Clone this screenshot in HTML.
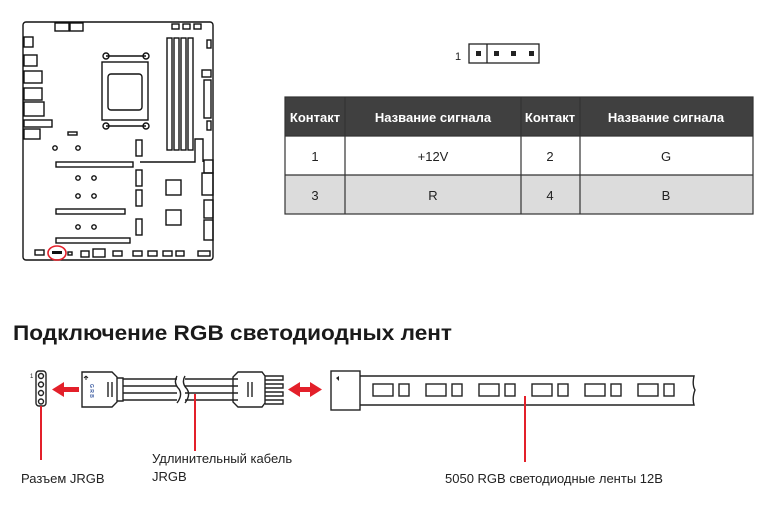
<!DOCTYPE html>
<html><head><meta charset="utf-8"><style>
html,body{margin:0;padding:0;background:#fff;width:772px;height:508px;overflow:hidden}
svg{display:block}
text{font-family:"Liberation Sans","Noto Sans CJK SC",sans-serif}
</style></head><body>
<svg width="772" height="508" viewBox="0 0 772 508" xmlns="http://www.w3.org/2000/svg">
<!-- Motherboard -->
<g fill="none" stroke="#111" stroke-width="1.4">
<rect x="23" y="22" width="190" height="238" rx="3"/>
<rect x="55" y="23" width="14" height="8"/><rect x="70" y="23" width="13" height="8"/>
<rect x="172" y="24" width="7" height="5"/><rect x="183" y="24" width="7" height="5"/><rect x="194" y="24" width="7" height="5"/>
<rect x="24" y="37" width="9" height="10"/><rect x="24" y="55" width="13" height="11"/><rect x="24" y="71" width="18" height="12"/>
<rect x="24" y="88" width="18" height="12"/><rect x="24" y="102" width="20" height="14"/><rect x="24" y="120" width="28" height="7"/><rect x="24" y="129" width="16" height="10"/>
<rect x="102" y="62" width="46" height="58"/><rect x="108" y="74" width="34" height="36" rx="3"/>
<circle cx="106" cy="56" r="3"/><circle cx="146" cy="56" r="3"/><circle cx="106" cy="126" r="3"/><circle cx="146" cy="126" r="3"/>
<path d="M106 56H146M106 126H146"/>
<rect x="167" y="38" width="5" height="112"/><rect x="174" y="38" width="5" height="112"/><rect x="181" y="38" width="5" height="112"/><rect x="188" y="38" width="5" height="112"/>
<rect x="207" y="40" width="4" height="8"/><rect x="202" y="70" width="9" height="7"/><rect x="204" y="80" width="7" height="38"/><rect x="207" y="121" width="4" height="9"/>
<rect x="68" y="132" width="9" height="3"/>
<circle cx="55" cy="148" r="2.2"/><circle cx="78" cy="148" r="2.2"/>
<rect x="56" y="162" width="77" height="5"/><rect x="136" y="140" width="6" height="16"/>
<path d="M140 162H195V139H203V162"/>
<rect x="204" y="160" width="9" height="13"/><rect x="202" y="173" width="11" height="22"/><rect x="204" y="200" width="9" height="18"/><rect x="204" y="220" width="9" height="20"/>
<circle cx="78" cy="178" r="2.2"/><circle cx="94" cy="178" r="2.2"/><circle cx="78" cy="196" r="2.2"/><circle cx="94" cy="196" r="2.2"/><circle cx="78" cy="227" r="2.2"/><circle cx="94" cy="227" r="2.2"/>
<rect x="136" y="170" width="6" height="16"/><rect x="136" y="190" width="6" height="16"/><rect x="136" y="219" width="6" height="16"/>
<rect x="166" y="180" width="15" height="15"/><rect x="166" y="210" width="15" height="15"/>
<rect x="56" y="209" width="69" height="5"/><rect x="56" y="238" width="74" height="5"/>
<rect x="35" y="250" width="9" height="5"/><rect x="68" y="252" width="4" height="3"/><rect x="81" y="251" width="8" height="6"/><rect x="93" y="249" width="12" height="8"/>
<rect x="113" y="251" width="9" height="5"/><rect x="133" y="251" width="9" height="5"/><rect x="148" y="251" width="9" height="5"/><rect x="163" y="251" width="9" height="5"/><rect x="176" y="251" width="8" height="5"/><rect x="198" y="251" width="12" height="5"/>
</g>
<rect x="52" y="251" width="10" height="3" fill="#111"/>
<ellipse cx="57" cy="253" rx="9" ry="7" fill="none" stroke="#e3202a" stroke-width="1.6"/>

<!-- Pin header -->
<text x="455" y="60" font-size="11" fill="#222">1</text>
<rect x="469" y="44" width="70" height="19" fill="none" stroke="#222" stroke-width="1.3"/>
<line x1="487" y1="44" x2="487" y2="63" stroke="#222" stroke-width="1.3"/>
<g fill="#222"><rect x="476" y="51" width="5" height="5"/><rect x="494" y="51" width="5" height="5"/><rect x="511" y="51" width="5" height="5"/><rect x="529" y="51" width="5" height="5"/></g>

<!-- Table -->
<rect x="285" y="97" width="468" height="39" fill="#404040"/>
<rect x="285" y="136" width="468" height="39" fill="#fff"/>
<rect x="285" y="175" width="468" height="39" fill="#dcdcdc"/>
<g stroke="#333" stroke-width="1.2" fill="none">
<rect x="285" y="97" width="468" height="117"/>
<path d="M285 136H753M285 175H753M345 97V214M521 97V214M580 97V214"/>
</g>
<g font-size="13" font-weight="bold" fill="#fff" text-anchor="middle">
<text x="315" y="122">Контакт</text><text x="433" y="122">Название сигнала</text>
<text x="550" y="122">Контакт</text><text x="666" y="122">Название сигнала</text>
</g>
<g font-size="13" fill="#222" text-anchor="middle">
<text x="315" y="161">1</text><text x="433" y="161">+12V</text><text x="550" y="161">2</text><text x="666" y="161">G</text>
<text x="315" y="200">3</text><text x="433" y="200">R</text><text x="550" y="200">4</text><text x="666" y="200">B</text>
</g>

<!-- Title -->
<text x="13" y="340" font-size="21" font-weight="bold" fill="#1a1a1a" textLength="439" lengthAdjust="spacingAndGlyphs">Подключение RGB светодиодных лент</text>

<!-- Bottom diagram -->
<text x="30" y="378" font-size="6" fill="#222">1</text>
<g fill="none" stroke="#222" stroke-width="1.4">
<rect x="36" y="371" width="10" height="35" rx="3"/>
<circle cx="41" cy="376" r="2.5"/><circle cx="41" cy="384.5" r="2.5"/><circle cx="41" cy="393" r="2.5"/><circle cx="41" cy="401.5" r="2.5"/>
<path d="M82 372H112L117 377V402L112 407H82Z"/>
<path d="M117 378H123V401H117"/>
<path d="M123 379H238M123 386H238M123 393H238M123 400H238"/>
<rect x="177" y="375" width="8" height="30" fill="#fff" stroke="none"/>
<path d="M177 376Q173 383 179 389Q183 395 177 403M185 376Q181 383 187 389Q191 395 185 403"/>
<path d="M238 372H262L265 376V403L262 407H238L233 402V377Z"/>
<path d="M108 382V397M112 382V397M248 382V397M252 382V397"/>
<path d="M265 376H283V380H265M265 384H283V388H265M265 392H283V396H265M265 400H283V404H265"/>
<rect x="331" y="371" width="29" height="39"/>
<path d="M360 376H694Q692 385 695 390Q692 398 694 405H360"/>
</g>
<path d="M86 376V380M86 376L84 378M86 376L88 378" stroke="#222" fill="none"/>
<g font-size="5" font-weight="bold" fill="#3a5aa0" transform="rotate(90)"><text x="384" y="-90">G R B</text></g>
<path d="M336 378L339 376V381Z" fill="#222"/>
<g fill="none" stroke="#222" stroke-width="1.4">
<rect x="373" y="384" width="20" height="12"/><rect x="399" y="384" width="10" height="12"/>
<rect x="426" y="384" width="20" height="12"/><rect x="452" y="384" width="10" height="12"/>
<rect x="479" y="384" width="20" height="12"/><rect x="505" y="384" width="10" height="12"/>
<rect x="532" y="384" width="20" height="12"/><rect x="558" y="384" width="10" height="12"/>
<rect x="585" y="384" width="20" height="12"/><rect x="611" y="384" width="10" height="12"/>
<rect x="638" y="384" width="20" height="12"/><rect x="664" y="384" width="10" height="12"/>
</g>
<g fill="#e3202a" stroke="none">
<rect x="62" y="387" width="17" height="5"/><path d="M52 389.5L64 382V397Z"/>
<rect x="298" y="387" width="14" height="5"/><path d="M288 389.5L300 382V397Z"/><path d="M322 389.5L310 382V397Z"/>
</g>
<g stroke="#e3202a" stroke-width="2">
<line x1="41" y1="406" x2="41" y2="460"/>
<line x1="195" y1="394" x2="195" y2="451"/>
<line x1="525" y1="396" x2="525" y2="462"/>
</g>
<g font-size="13" fill="#222">
<text x="21" y="483">Разъем JRGB</text>
<text x="152" y="463">Удлинительный кабель</text>
<text x="152" y="481">JRGB</text>
<text x="445" y="483">5050 RGB светодиодные ленты 12В</text>
</g>
</svg>
</body></html>
